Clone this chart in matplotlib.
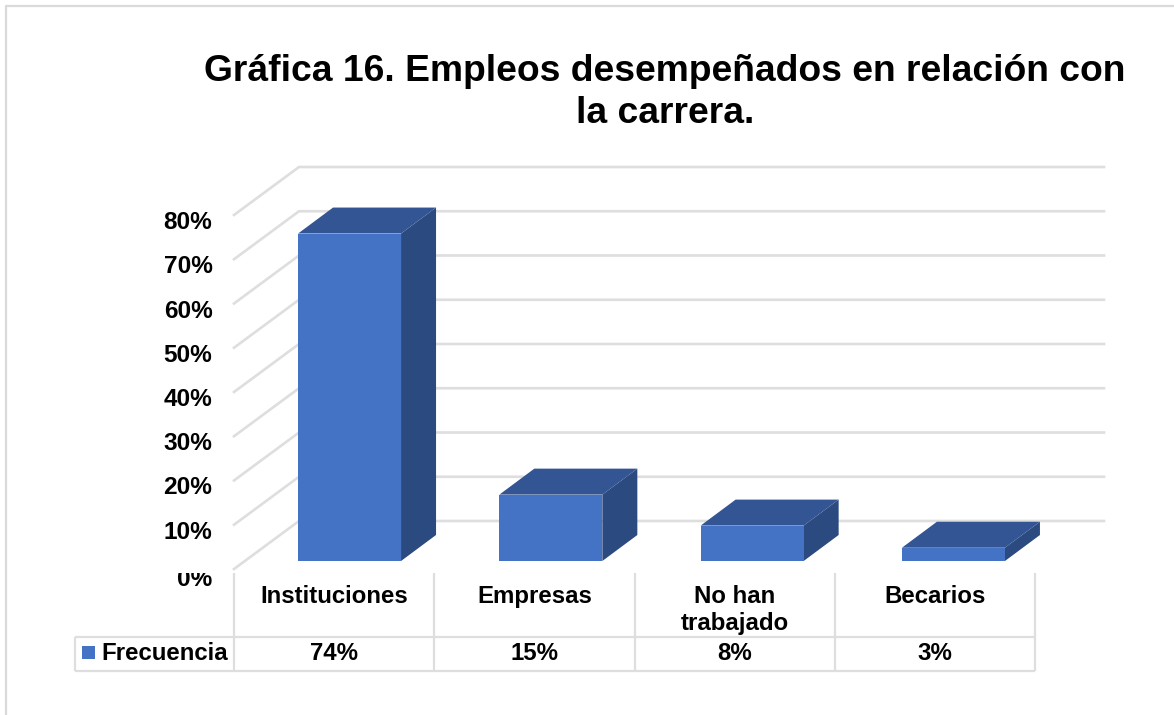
"""Gráfica 16: columnas con perspectiva y tabla de datos."""

import matplotlib
matplotlib.use("Agg")
import matplotlib.pyplot as plt
from matplotlib.patches import Polygon, Rectangle
from matplotlib.transforms import Bbox, ScaledTranslation

categorias = ["Instituciones", "Empresas", "No han\ntrabajado", "Becarios"]
frecuencia = [74, 15, 8, 3]
etiquetas_valor = ["74%", "15%", "8%", "3%"]
ticks_y = [0, 10, 20, 30, 40, 50, 60, 70, 80]
etiquetas_y = ["0%", "10%", "20%", "30%", "40%", "50%", "60%", "70%", "80%"]
serie = "Frecuencia"
titulo = "Gráfica 16. Empleos desempeñados en relación con\nla carrera."

W, H = 1174, 715
AZUL = "#4472C4"
AZUL_TOP = "#335593"
AZUL_LADO = "#2B4A80"
GRIS = "#DEDEDE"
TEXTO = "#000000"
FS = 17.3

plt.rcParams["font.family"] = ["Liberation Sans", "DejaVu Sans"]
plt.rcParams["font.weight"] = "bold"

fig = plt.figure(figsize=(W / 100, H / 100), dpi=100)


def rect_px(x0, y0, x1, y1):
    return [x0 / W, 1 - y1 / H, (x1 - x0) / W, (y1 - y0) / H]


# marco exterior
fig.add_artist(plt.Line2D([5.5 / W, 5.5 / W, 1], [0, 1 - 6 / H, 1 - 6 / H],
                          color="#DADADA", lw=1.6, transform=fig.transFigure))

ax = fig.add_axes(rect_px(234, 215, 1035, 569))
ax.set_xlim(0, 4)
ax.set_ylim(0, 80)
ax.patch.set_visible(False)
for s in ax.spines.values():
    s.set_visible(False)

# profundidad de la pared y de las barras, en unidades de datos
PX_X, PX_Y = 200.25, 4.425
PARED_X, PARED_Y = 65 / PX_X, 48 / PX_Y
FIN_X = 870 / PX_X
BASE_X, BASE_Y = 0.077, 8 / PX_Y
ANCHO = 103 / PX_X
PASO = 201.3 / PX_X
PROF_X, PROF_Y = 35 / PX_X, 26 / PX_Y

for v in ticks_y:
    ax.plot([0, PARED_X, FIN_X], [v, v + PARED_Y, v + PARED_Y],
            color=GRIS, lw=1.9, clip_on=False, zorder=1, solid_joinstyle="miter")

for i, v in enumerate(frecuencia):
    x0 = i * PASO + 0.5 - ANCHO / 2 + BASE_X
    x1 = x0 + ANCHO
    y0, y1 = BASE_Y, BASE_Y + v
    ax.add_patch(Polygon([(x1, y0), (x1 + PROF_X, y0 + PROF_Y),
                          (x1 + PROF_X, y1 + PROF_Y), (x1, y1)],
                         fc=AZUL_LADO, ec="none", clip_on=False, zorder=3))
    ax.add_patch(Polygon([(x0, y1), (x0 + PROF_X, y1 + PROF_Y),
                          (x1 + PROF_X, y1 + PROF_Y), (x1, y1)],
                         fc=AZUL_TOP, ec="none", clip_on=False, zorder=3))
    ax.add_patch(Rectangle((x0, y0), ANCHO, v, fc=AZUL, ec="none",
                           clip_on=False, zorder=4))

ax.set_xticks([])
ax.set_yticks(ticks_y, etiquetas_y, fontsize=FS + 0.3, color=TEXTO, fontweight="bold")
ax.tick_params(axis="y", length=0, pad=15.5)
baja = ScaledTranslation(0, -5 / 100, fig.dpi_scale_trans)
baja_cero = ScaledTranslation(0, -8 / 100, fig.dpi_scale_trans)
for lab, v in zip(ax.get_yticklabels(), ticks_y):
    lab.set_transform(lab.get_transform() + (baja_cero if v == 0 else baja))
    if v == 0:
        # el 0% queda cortado por arriba en el original
        lab.set_clip_box(Bbox([[100, 0], [234, H - 572.5]]))
        lab.set_clip_on(True)

# tabla de datos
tb = fig.add_axes(rect_px(234, 573, 1035, 671))
tb.set_xlim(0, 4)
tb.set_ylim(98, 0)
tb.axis("off")
LEG = -159 / PX_X
kw = dict(color=GRIS, lw=1.6, clip_on=False, solid_capstyle="butt")
for x in range(5):
    tb.plot([x, x], [0, 98], **kw)
tb.plot([LEG, 4], [64, 64], **kw)
tb.plot([LEG, 4], [98, 98], **kw)
tb.plot([LEG, LEG], [64, 98], **kw)

for i, (c, e) in enumerate(zip(categorias, etiquetas_valor)):
    tb.text(i + 0.5, 12, c, ha="center", va="top", fontsize=FS, color=TEXTO,
            linespacing=1.2, clip_on=False)
    tb.text(i + 0.5, 81, e, ha="center", va="center", fontsize=FS, color=TEXTO,
            clip_on=False)
tb.add_patch(Rectangle((-152 / PX_X, 73), 13 / PX_X, 13, fc=AZUL, ec="none", clip_on=False))
tb.text(-133 / PX_X, 80, serie, ha="left", va="center", fontsize=FS, color=TEXTO,
        clip_on=False)

fig.text(665 / W, 1 - 92.5 / H, titulo, ha="center", va="center", fontsize=26.85,
         color=TEXTO, linespacing=1.27, fontweight="bold")

fig.savefig("out.png", dpi=100)
